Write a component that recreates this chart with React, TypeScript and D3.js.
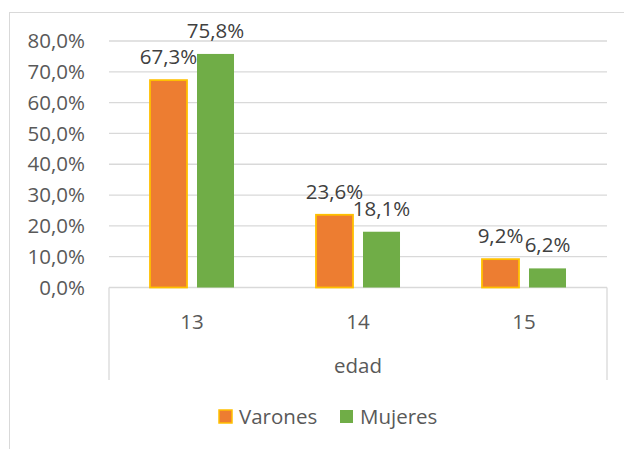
import React from "react";
import * as d3 from "d3";

const categories = ["13", "14", "15"];
const seriesNames = ["Varones", "Mujeres"];
const varones = [67.3, 23.6, 9.2];
const mujeres = [75.8, 18.1, 6.2];
const yTicks = [0, 10, 20, 30, 40, 50, 60, 70, 80];
const axisTitle = "edad";

const fills = ["#ED7D31", "#70AD47"];
const strokes = ["#FFC000", "none"];
const FONT = "'Open Sans', Lato, sans-serif";

export default function App() {
  const W = 624, H = 449;
  const left = 109, right = 607, top = 41, bottom = 287.5;
  const x = d3.scaleBand<string>().domain(categories).range([left, right]).padding(0);
  const xi = d3.scaleBand<string>().domain(seriesNames).range([0, x.step()]).paddingInner(0.213).paddingOuter(0.872);
  const y = d3.scaleLinear().domain([0, 80]).range([bottom, top]);
  const data = [varones, mujeres];
  const fmt = (v: number) => v.toFixed(1).replace(".", ",") + "%";
  const FS = 20.5;

  return (
    <svg width={W} height={H} style={{ position: "absolute", left: 0, top: 0 }} fontFamily={FONT}>
      <rect x={0} y={0} width={W} height={H} fill="#fff" />
      <rect x={9.5} y={12.5} width={700} height={500} fill="none" stroke="#d9d9d9" />
      {yTicks.map((t) => (
        <g key={t}>
          <line x1={left} x2={right} y1={y(t)} y2={y(t)} stroke="#d9d9d9" strokeWidth={1.3} />
          <text x={85} y={y(t)} dy="0.35em" textAnchor="end" fontSize={FS} fill="#595959">
            {fmt(t)}
          </text>
        </g>
      ))}
      <line x1={left} x2={left} y1={bottom} y2={380} stroke="#d9d9d9" strokeWidth={1.3} />
      <line x1={right} x2={right} y1={bottom} y2={380} stroke="#d9d9d9" strokeWidth={1.3} />
      {categories.map((c, ci) => (
        <g key={c}>
          {seriesNames.map((s, si) => {
            const v = data[si][ci];
            const bx = (x(c) as number) + (xi(s) as number);
            const bw = xi.bandwidth();
            return (
              <g key={s}>
                <rect
                  x={bx}
                  y={y(v)}
                  width={bw}
                  height={bottom - y(v)}
                  fill={fills[si]}
                  stroke={strokes[si]}
                  strokeWidth={1.8}
                />
                <text x={bx + bw / 2} y={y(v) - 16} textAnchor="middle" fontSize={FS} fill="#404040">
                  {fmt(v)}
                </text>
              </g>
            );
          })}
          <text x={(x(c) as number) + x.bandwidth() / 2} y={322} dy="0.35em" textAnchor="middle" fontSize={FS} fill="#595959">
            {c}
          </text>
        </g>
      ))}
      <text x={(left + right) / 2} y={366} dy="0.35em" textAnchor="middle" fontSize={FS} fill="#595959">
        {axisTitle}
      </text>
      {seriesNames.map((s, si) => {
        const lx = si === 0 ? 219 : 340;
        return (
          <g key={s}>
            <rect x={lx} y={410} width={13} height={13} fill={fills[si]} stroke={strokes[si]} strokeWidth={1.5} />
            <text x={lx + 20} y={417} dy="0.35em" fontSize={FS} fill="#595959">
              {s}
            </text>
          </g>
        );
      })}
    </svg>
  );
}
